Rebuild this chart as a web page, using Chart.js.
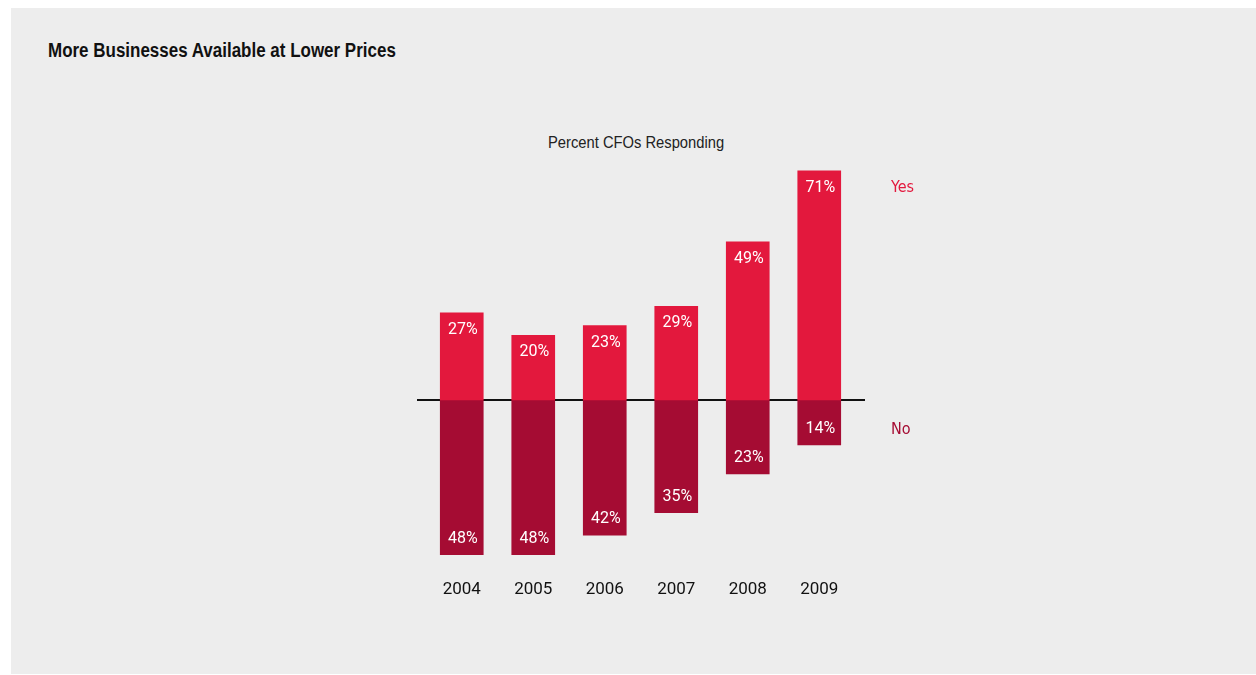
<!DOCTYPE html>
<html>
<head>
<meta charset="utf-8">
<script src="https://cdn.jsdelivr.net/npm/chart.js@4"></script>
<style>
  html, body { margin: 0; padding: 0; background: #fff; }
  #wrap { position: relative; width: 1256px; height: 675px; overflow: hidden; }
  #panel { position: absolute; left: 11px; top: 8px; width: 1245px; height: 666px; background: #ededed; }
  .narrow { position: absolute; white-space: nowrap; transform-origin: 0 0; font-family: "Liberation Sans", Arial, sans-serif; }
  #title { left: 48px; top: 39px; font-weight: bold; font-size: 20px; color: #111; }
  #subtitle { left: 548px; top: 133px; font-size: 17px; color: #222; }
  canvas { position: absolute; left: 0; top: 0; }
</style>
</head>
<body>
<div id="wrap">
  <div id="panel"></div>
  <div id="title" class="narrow" data-w="348">More Businesses Available at Lower Prices</div>
  <div id="subtitle" class="narrow" data-w="176">Percent CFOs Responding</div>
  <canvas id="chart" width="1256" height="675"></canvas>
</div>
<script>
const years = ['2004', '2005', '2006', '2007', '2008', '2009'];
const yesValues = [27, 20, 23, 29, 49, 71];
const noValues = [48, 48, 42, 35, 23, 14];

const YES_COLOR = '#e3183d';
const NO_COLOR = '#a50c33';
const LABEL_FONT = '16px Roboto, "Liberation Sans", sans-serif';
const SERIES_FONT = '16px "DejaVu Sans Condensed", sans-serif';

// squeeze the headings into a condensed look
document.querySelectorAll('.narrow').forEach(el => {
  const k = +el.dataset.w / el.offsetWidth;
  el.style.transform = 'scaleX(' + k + ')';
});

// zero line sits behind the bars and runs a little past the plot area
const zeroLine = {
  id: 'zeroLine',
  beforeDatasetsDraw(chart) {
    const { ctx, chartArea, scales } = chart;
    const y0 = Math.round(scales.y.getPixelForValue(0));
    ctx.save();
    ctx.strokeStyle = '#111';
    ctx.lineWidth = 2;
    ctx.beginPath();
    ctx.moveTo(chartArea.left - 9, y0);
    ctx.lineTo(chartArea.right + 10, y0);
    ctx.stroke();
    ctx.restore();
  }
};

// percent labels inside the bar ends, plus Yes / No names beside the last bar
const barLabels = {
  id: 'barLabels',
  afterDatasetsDraw(chart) {
    const { ctx, chartArea, scales: { x, y } } = chart;
    ctx.save();
    ctx.textAlign = 'center';
    ctx.textBaseline = 'middle';
    ctx.font = LABEL_FONT;
    ctx.fillStyle = '#fff';
    years.forEach((yr, i) => {
      const cx = x.getPixelForValue(i);
      ctx.fillText(yesValues[i] + '%', cx + 1, y.getPixelForValue(yesValues[i]) + 17);
      ctx.fillText(noValues[i] + '%', cx + 1, y.getPixelForValue(-noValues[i]) - 16);
    });
    const last = years.length - 1;
    ctx.textAlign = 'left';
    ctx.font = SERIES_FONT;
    ctx.fillStyle = YES_COLOR;
    ctx.fillText('Yes', chartArea.right + 36, y.getPixelForValue(yesValues[last]) + 17);
    ctx.fillStyle = NO_COLOR;
    ctx.fillText('No', chartArea.right + 36, y.getPixelForValue(-noValues[last]) - 15);
    ctx.restore();
  }
};

new Chart(document.getElementById('chart'), {
  type: 'bar',
  data: {
    labels: years,
    datasets: [
      { label: 'Yes', data: yesValues, backgroundColor: YES_COLOR },
      { label: 'No', data: noValues.map(v => -v), backgroundColor: NO_COLOR }
    ]
  },
  options: {
    responsive: false,
    animation: false,
    events: [],
    layout: { padding: { left: 426, right: 401, top: 158, bottom: 74 } },
    datasets: { bar: { barThickness: 43, borderWidth: 0 } },
    plugins: { legend: { display: false }, tooltip: { enabled: false } },
    scales: {
      x: {
        stacked: true,
        grid: { display: false, drawTicks: false },
        border: { display: false },
        ticks: { color: '#111', font: { family: 'Roboto', size: 17 }, padding: 19 },
        afterFit: s => { s.height = 40; }
      },
      y: {
        stacked: true,
        display: false,
        min: -50,
        max: 75
      }
    }
  },
  plugins: [zeroLine, barLabels]
});
</script>
</body>
</html>
